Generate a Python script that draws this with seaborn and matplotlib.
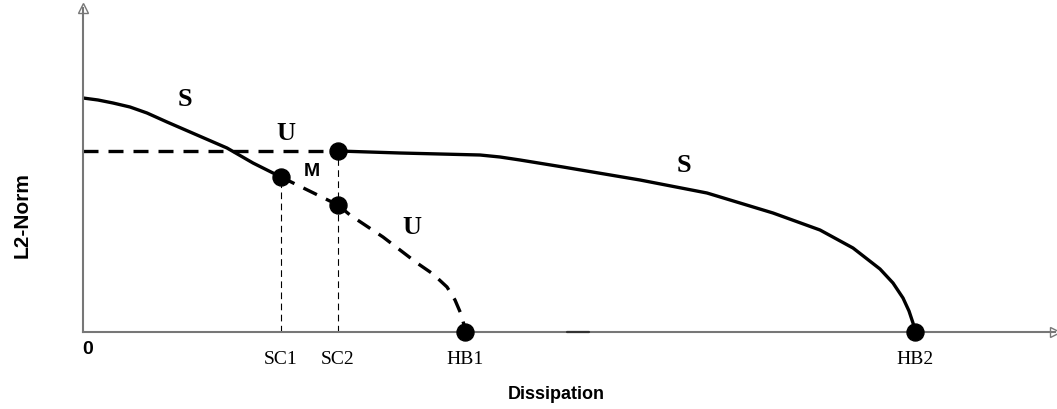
import matplotlib
matplotlib.use("Agg")
import matplotlib.pyplot as plt
import seaborn as sns

# Stable branch starting at zero dissipation, ending at the saddle point SC1
s_low_x = [0.0, 0.15, 0.30, 0.47, 0.64, 0.84, 1.14, 1.44, 1.70, 1.98]
s_low_y = [2.34, 2.32, 2.29, 2.25, 2.19, 2.10, 1.97, 1.84, 1.69, 1.55]

# Unstable flat branch up to SC2
u_flat_x = [0.0, 2.55]
u_flat_y = [1.81, 1.81]

# Middle branch between SC1 and SC2 (lower point)
m_x = [1.98, 2.55]
m_y = [1.55, 1.27]

# Unstable branch from SC2 down to HB1
u_low_x = [2.55, 2.67, 3.0, 3.34, 3.5, 3.64, 3.72, 3.78, 3.81, 3.82]
u_low_y = [1.27, 1.17, 0.95, 0.69, 0.58, 0.45, 0.32, 0.18, 0.07, 0.0]

# Stable branch from SC2 down to HB2
s_high_x = [2.55, 3.17, 3.97, 4.17, 4.37, 4.80, 5.57, 6.24, 6.90, 7.37,
            7.70, 7.97, 8.10, 8.20, 8.26, 8.30, 8.32]
s_high_y = [1.81, 1.79, 1.77, 1.75, 1.72, 1.65, 1.52, 1.39, 1.19, 1.02,
            0.84, 0.63, 0.49, 0.34, 0.21, 0.09, 0.0]

# Bifurcation points
pt_x = [1.98, 2.55, 2.55, 3.82, 8.32]
pt_y = [1.55, 1.81, 1.27, 0.0, 0.0]

tick_pos = [1.98, 2.55, 3.82, 8.32]
tick_labels = ["SC1", "SC2", "HB1", "HB2"]

sns.set_style("white")
plt.rcParams.update({
    "text.color": "black",
    "axes.labelcolor": "black",
    "xtick.color": "black",
    "ytick.color": "black",
})

fig = plt.figure(figsize=(10.57, 4.09), dpi=100)
ax = fig.add_axes([83 / 1057, (409 - 332) / 409, (1055 - 83) / 1057, (332 - 8) / 409])
ax.set_xlim(0, 9.72)
ax.set_ylim(0, 3.24)

axis_grey = "#777777"
for side in ["top", "right"]:
    ax.spines[side].set_visible(False)
for side in ["left", "bottom"]:
    ax.spines[side].set_color(axis_grey)
    ax.spines[side].set_linewidth(1.5)

# open arrow heads at the ends of both axes
ax.plot([0], [1], marker="^", ms=7, mfc="white", mec=axis_grey, mew=1.0,
        transform=ax.transAxes, clip_on=False)
ax.plot([1], [0], marker=">", ms=7, mfc="white", mec=axis_grey, mew=1.0,
        transform=ax.transAxes, clip_on=False)

# thin vertical guides at SC1 and SC2
for gx, gy in [(1.98, 1.55), (2.55, 1.81)]:
    ax.plot([gx, gx], [0, gy], color="black", lw=0.8, linestyle=(0, (6, 4)), zorder=2)

dash = (0, (4.5, 3))
lw = 2.4
sns.lineplot(x=s_low_x, y=s_low_y, ax=ax, color="black", lw=lw, sort=False, estimator=None)
sns.lineplot(x=u_flat_x, y=u_flat_y, ax=ax, color="black", lw=lw, linestyle=dash,
             sort=False, estimator=None)
sns.lineplot(x=m_x, y=m_y, ax=ax, color="black", lw=lw, linestyle=dash,
             sort=False, estimator=None)
sns.lineplot(x=u_low_x, y=u_low_y, ax=ax, color="black", lw=lw, linestyle=dash,
             sort=False, estimator=None)
sns.lineplot(x=s_high_x, y=s_high_y, ax=ax, color="black", lw=lw, sort=False, estimator=None)

# small dark mark on the axis
ax.plot([4.84, 5.06], [0, 0], color="#333333", lw=1.6, zorder=3, clip_on=False)

sns.scatterplot(x=pt_x, y=pt_y, ax=ax, color="black", s=150, edgecolor="black",
                zorder=5, clip_on=False)

serif = ["Liberation Serif", "DejaVu Serif"]
sans = ["Liberation Sans", "DejaVu Sans"]

# branch labels
for tx, ty, t in [(1.02, 2.33, "S"), (2.03, 1.99, "U"), (3.29, 1.05, "U"), (6.01, 1.67, "S")]:
    ax.text(tx, ty, t, family=serif, fontweight="bold", fontsize=19,
            ha="center", va="center")
ax.text(2.29, 1.60, "M", family=sans, fontweight="bold", fontsize=14,
        ha="center", va="center")

ax.set_xticks(tick_pos)
ax.set_xticklabels(tick_labels, family=serif, fontsize=14)
ax.tick_params(axis="x", length=0, pad=13.4)
ax.set_yticks([])
ax.text(0.05, -0.17, "0", family=sans, fontweight="bold", fontsize=14,
        ha="center", va="center")

ax.set_xlabel("Dissipation", family=sans, fontweight="bold", fontsize=13)
ax.xaxis.set_label_coords((556 - 83) / 972, -(386 - 332) / 324)
ax.set_ylabel("L2-Norm", family=sans, fontweight="bold", fontsize=15)
ax.yaxis.set_label_coords(-(83 - 32) / 972, (332 - 215) / 324)

fig.savefig("out.png", dpi=100)
